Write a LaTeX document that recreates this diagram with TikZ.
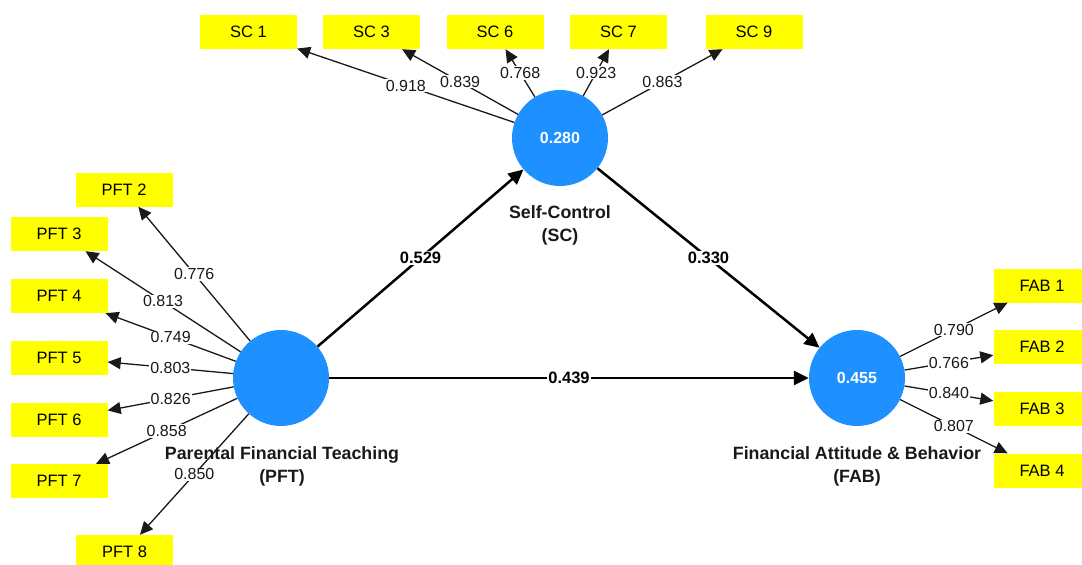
\documentclass[tikz,border=0pt]{standalone}
\usepackage{fontspec}
\setmainfont{Liberation Sans}
\usetikzlibrary{arrows.meta}
\definecolor{lvblue}{RGB}{30,144,255}
\definecolor{indyel}{RGB}{255,255,0}
\begin{document}
\begin{tikzpicture}[x=1pt,y=-1pt,
 ind/.style={rectangle, fill=indyel, minimum width=97pt, minimum height=34pt, inner sep=0pt, text=black, font=\fontsize{16.5}{19}\selectfont},
 lv/.style={circle, fill=lvblue, minimum size=96pt, inner sep=0pt, text=white, font=\bfseries\fontsize{16}{19}\selectfont},
 load/.style={draw=black!90, line width=1.3pt, -{Triangle[length=13pt,width=12pt]}},
 strpath/.style={draw=black, line width=2.5pt, -{Triangle[length=15pt,width=14pt]}},
 lab/.style={fill=white, inner sep=1pt, font=\fontsize{16}{19}\selectfont, text=black!90},
 plab/.style={fill=white, inner sep=1pt, font=\bfseries\fontsize{16.5}{19}\selectfont, text=black},
 lvlab/.style={align=center, font=\bfseries\fontsize{17.8}{23}\selectfont, text=black!90}]
\useasboundingbox (0,0) rectangle (1082,565);
\clip (0,0) rectangle (1082,565);

% latent variables
\node[lv] (sc) at (560,138) {0.280};
\node[lv] (pft) at (281,378) {};
\node[lv] (fab) at (857,378) {0.455};

\node[lvlab] (sclab) at (560,225) {Self-Control\\(SC)};
\node[lvlab] (pftlab) at (282,466) {Parental Financial Teaching\\(PFT)};
\node[lvlab] (fablab) at (857,466) {Financial Attitude \& Behavior\\(FAB)};

% SC indicators
\node[ind] (sc1) at (248.5,32) {SC 1};
\node[ind] (sc3) at (371.5,32) {SC 3};
\node[ind] (sc6) at (495,32) {SC 6};
\node[ind] (sc7) at (618.5,32) {SC 7};
\node[ind] (sc9) at (754,32) {SC 9};

% PFT indicators
\node[ind] (pft2) at (124,189.5) {PFT 2};
\node[ind] (pft3) at (59,234) {PFT 3};
\node[ind] (pft4) at (59,296) {PFT 4};
\node[ind] (pft5) at (59,357.5) {PFT 5};
\node[ind] (pft6) at (59,419.5) {PFT 6};
\node[ind] (pft7) at (59,481) {PFT 7};
\node[ind] (pft8) at (124.5,552) {PFT 8};

% FAB indicators
\node[ind] (fab1) at (1042,285.5) {FAB 1};
\node[ind] (fab2) at (1042,347) {FAB 2};
\node[ind] (fab3) at (1042,409) {FAB 3};
\node[ind] (fab4) at (1042,470.5) {FAB 4};

% loadings
\draw[load] (sc) -- node[lab]{0.918} (sc1);
\draw[load] (sc) -- node[lab]{0.839} (sc3);
\draw[load] (sc) -- node[lab]{0.768} (sc6);
\draw[load] (sc) -- node[lab]{0.923} (sc7);
\draw[load] (sc) -- node[lab]{0.863} (sc9);

\draw[load] (pft) -- node[lab]{0.776} (pft2);
\draw[load] (pft) -- node[lab]{0.813} (pft3);
\draw[load] (pft) -- node[lab]{0.749} (pft4);
\draw[load] (pft) -- node[lab]{0.803} (pft5);
\draw[load] (pft) -- node[lab]{0.826} (pft6);
\draw[load] (pft) -- node[lab]{0.858} (pft7);
\draw[load] (pft) -- node[lab]{0.850} (pft8);

\draw[load] (fab) -- node[lab]{0.790} (fab1);
\draw[load] (fab) -- node[lab]{0.766} (fab2);
\draw[load] (fab) -- node[lab]{0.840} (fab3);
\draw[load] (fab) -- node[lab]{0.807} (fab4);

% structural paths
\draw[strpath] (pft) -- node[plab]{0.529} (sc);
\draw[strpath] (sc) -- node[plab]{0.330} (fab);
\draw[strpath] (pft) -- node[plab]{0.439} (fab);
\end{tikzpicture}
\end{document}
